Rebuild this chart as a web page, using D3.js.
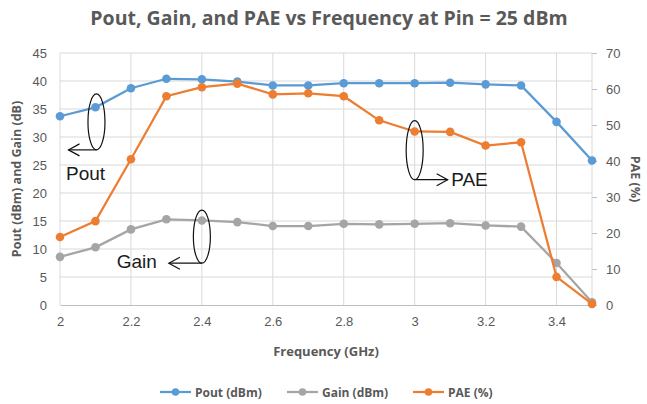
<!DOCTYPE html>
<html lang="en">
<head>
<meta charset="utf-8">
<script src="https://d3js.org/d3.v7.min.js"></script>
<style>
  body { margin: 0; background: #fff; }
  svg { font-family: "Open Sans", "Liberation Sans", sans-serif; }
  .tick text { fill: #595959; font-size: 13px; }
  .note { font-family: "Liberation Sans", Arial, sans-serif; font-size: 19px; fill: #1a1a1a; }
</style>
</head>
<body>
<svg width="647" height="404"></svg>
<script>
// chart values
var freq = [2, 2.1, 2.2, 2.3, 2.4, 2.5, 2.6, 2.7, 2.8, 2.9, 3.0, 3.1, 3.2, 3.3, 3.4, 3.5];
var pout = [33.7, 35.3, 38.7, 40.4, 40.3, 39.9, 39.2, 39.2, 39.6, 39.6, 39.6, 39.7, 39.4, 39.2, 32.7, 25.8];
var gain = [8.6, 10.3, 13.5, 15.3, 15.1, 14.8, 14.1, 14.1, 14.5, 14.4, 14.5, 14.6, 14.2, 14.0, 7.5, 0.5];
var pae  = [18.9, 23.3, 40.5, 58.0, 60.5, 61.5, 58.5, 58.8, 58.0, 51.3, 48.2, 48.1, 44.3, 45.2, 7.8, 0.3];
var xTicks = [2, 2.2, 2.4, 2.6, 2.8, 3, 3.2, 3.4];
var leftTicks = [0, 5, 10, 15, 20, 25, 30, 35, 40, 45];
var rightTicks = [0, 10, 20, 30, 40, 50, 60, 70];
var seriesNames = ["Pout (dBm)", "Gain (dBm)", "PAE (%)"];
var colors = ["#5b9bd5", "#a5a5a5", "#ed7d31"];

var svg = d3.select("svg");
var pLeft = 60, pRight = 592, pTop = 53, pBottom = 305;

var x = d3.scaleLinear().domain([2, 3.5]).range([pLeft, pRight]);
var yL = d3.scaleLinear().domain([0, 45]).range([pBottom, pTop]);
var yR = d3.scaleLinear().domain([0, 70]).range([pBottom, pTop]);

// grid
svg.append("g").selectAll("line").data(leftTicks.slice(1)).join("line")
  .attr("x1", pLeft).attr("x2", pRight)
  .attr("y1", d => yL(d)).attr("y2", d => yL(d))
  .attr("stroke", "#d9d9d9").attr("stroke-width", 1);
svg.append("g").selectAll("line").data(xTicks.slice(1).concat([3.5])).join("line")
  .attr("x1", d => x(d)).attr("x2", d => x(d))
  .attr("y1", pTop).attr("y2", pBottom)
  .attr("stroke", "#d9d9d9").attr("stroke-width", 1);
svg.append("line").attr("x1", pLeft).attr("x2", pLeft).attr("y1", pTop).attr("y2", pBottom)
  .attr("stroke", "#d9d9d9");

// axes
var gx = svg.append("g").attr("transform", "translate(0," + pBottom + ")")
  .call(d3.axisBottom(x).tickValues(xTicks).tickSize(0).tickPadding(12).tickFormat(d3.format("")));
gx.select(".domain").attr("stroke", "#bfbfbf");

var gl = svg.append("g").attr("transform", "translate(" + pLeft + ",0)")
  .call(d3.axisLeft(yL).tickValues(leftTicks).tickSize(0).tickPadding(13));
gl.select(".domain").remove();

var gr = svg.append("g").attr("transform", "translate(" + pRight + ",0)")
  .call(d3.axisRight(yR).tickValues(rightTicks).tickSize(5).tickPadding(9));
gr.select(".domain").remove();
gr.selectAll("line").attr("stroke", "#bfbfbf");

// series
var sets = [pout.map((v, i) => [freq[i], yL(v)]),
            gain.map((v, i) => [freq[i], yL(v)]),
            pae.map((v, i) => [freq[i], yR(v)])];
var line = d3.line().x(d => x(d[0])).y(d => d[1]);
[1, 0, 2].forEach(function(k) {
  var g = svg.append("g");
  g.append("path").datum(sets[k]).attr("d", line)
    .attr("fill", "none").attr("stroke", colors[k]).attr("stroke-width", 2.25);
  g.selectAll("circle").data(sets[k]).join("circle")
    .attr("cx", d => x(d[0])).attr("cy", d => d[1]).attr("r", 4.3)
    .attr("fill", colors[k]);
});

// hand drawn annotations
function note(cx, cy, ry, dir, len, label, tx, ty) {
  var g = svg.append("g").attr("fill", "none").attr("stroke", "#111").attr("stroke-width", 1.2);
  g.append("ellipse").attr("cx", cx).attr("cy", cy).attr("rx", 8.5).attr("ry", ry);
  var y0 = cy + ry, x1 = cx + dir * len;
  g.append("line").attr("x1", cx).attr("y1", y0).attr("x2", x1).attr("y2", y0);
  g.append("path").attr("d", "M" + (x1 - dir * 11) + "," + (y0 - 6) + "L" + x1 + "," + y0 + "L" + (x1 - dir * 11) + "," + (y0 + 6));
  svg.append("text").attr("class", "note").attr("x", tx).attr("y", ty).text(label);
}
note(x(2.1) + 1, yL(32.7), 28, -1, 28, "Pout", x(2) + 6, yL(22.3));
note(x(2.4), yL(12.2), 26.5, -1, 33, "Gain", x(2.16), yL(6.6));
note(x(3.0), yR(43), 29.5, 1, 33, "PAE", x(3.1) + 1, yR(33));

// titles
svg.append("text").attr("x", 329).attr("y", 25).attr("text-anchor", "middle")
  .attr("font-size", 19.5).attr("font-weight", "bold").attr("fill", "#595959")
  .text("Pout, Gain, and PAE vs Frequency at Pin = 25 dBm");
svg.append("text").attr("x", (pLeft + pRight) / 2).attr("y", 356).attr("text-anchor", "middle")
  .attr("font-size", 13).attr("font-weight", "bold").attr("fill", "#595959")
  .text("Frequency (GHz)");
svg.append("text").attr("transform", "translate(21," + ((pTop + pBottom) / 2) + ") rotate(-90)")
  .attr("text-anchor", "middle").attr("font-size", 12.5).attr("font-weight", "bold").attr("fill", "#595959")
  .text("Pout (dBm) and Gain (dB)");
svg.append("text").attr("transform", "translate(631," + ((pTop + pBottom) / 2) + ") rotate(90)")
  .attr("text-anchor", "middle").attr("font-size", 12.5).attr("font-weight", "bold").attr("fill", "#595959")
  .text("PAE (%)");

// legend
var legX = [160, 287, 413];
var leg = svg.append("g").selectAll("g").data(seriesNames).join("g")
  .attr("transform", (d, i) => "translate(" + legX[i] + ",392)");
leg.append("line").attr("x1", 0).attr("x2", 31).attr("stroke", (d, i) => colors[i]).attr("stroke-width", 2.25);
leg.append("circle").attr("cx", 15.5).attr("r", 3.8).attr("fill", (d, i) => colors[i]);
leg.append("text").attr("x", 35).attr("y", 4.5).attr("font-size", 12).attr("font-weight", "bold")
  .attr("fill", "#595959").text(d => d);
</script>
</body>
</html>
